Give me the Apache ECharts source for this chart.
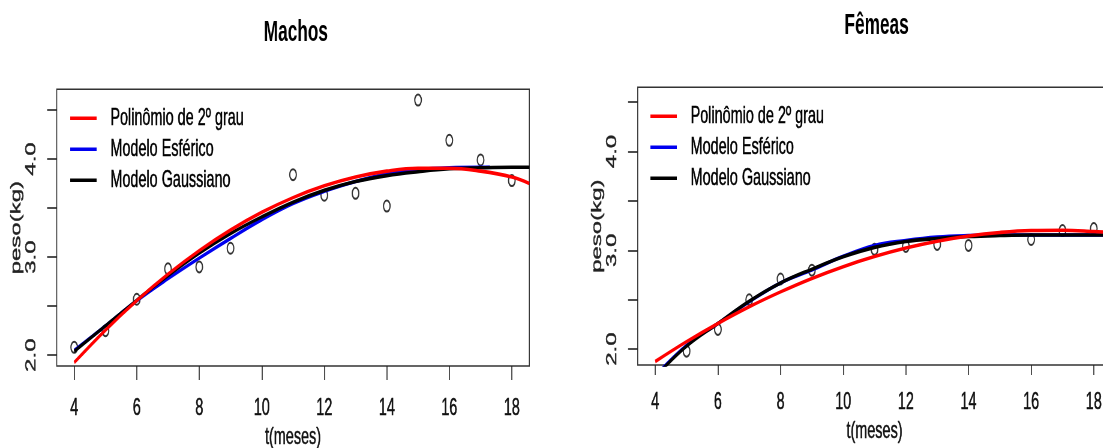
<!DOCTYPE html>
<html>
<head>
<meta charset="utf-8">
<script src="https://cdn.jsdelivr.net/npm/echarts@6/dist/echarts.min.js"></script>
<style>
  html, body { margin: 0; padding: 0; background: #fff; overflow: hidden; }
  /* o grafico original foi achatado na horizontal: desenha largo e comprime */
  #chart { width: 1839px; height: 448px; transform: scaleX(0.6); transform-origin: 0 0; }
</style>
</head>
<body>
<div id="chart"></div>
<script>
// eixos
var xTicks = [4, 6, 8, 10, 12, 14, 16, 18];
var yTicks = [2.0, 2.5, 3.0, 3.5, 4.0, 4.5];
var yLabels = [2.0, 3.0, 4.0];

// Machos - pesos observados
var machosT = [4, 5, 6, 7, 8, 9, 11, 12, 13, 14, 15, 16, 17, 18];
var machosPeso = [2.08, 2.25, 2.57, 2.88, 2.90, 3.09, 3.84, 3.63, 3.65, 3.52, 4.60, 4.19, 3.99, 3.78];

// Femeas - pesos observados
var femeasT = [5, 6, 7, 8, 9, 11, 12, 13, 14, 16, 17, 18];
var femeasPeso = [1.98, 2.20, 2.50, 2.71, 2.80, 3.01, 3.04, 3.06, 3.05, 3.11, 3.20, 3.22];

// curvas ajustadas
var curvaT = [4, 5, 6, 7, 8, 9, 10, 11, 12, 13, 14, 15, 16, 17, 18, 18.56];
var machosPoli = [1.925, 2.256, 2.556, 2.826, 3.066, 3.276, 3.456, 3.606, 3.726, 3.816, 3.876, 3.906, 3.906, 3.876, 3.816, 3.75];
var machosGaus = [2.04, 2.30, 2.56, 2.81, 3.04, 3.24, 3.41, 3.56, 3.68, 3.77, 3.83, 3.87, 3.90, 3.91, 3.915, 3.915];
var esfMachosT = [4, 5, 6, 7, 8, 9, 10, 11, 12, 13, 14, 15, 16, 17, 17.3];
var machosEsf = [2.05, 2.30, 2.555, 2.78, 2.99, 3.19, 3.38, 3.545, 3.67, 3.77, 3.85, 3.89, 3.91, 3.915, 3.915];

var femeasPoli = [1.875, 2.076, 2.26, 2.429, 2.58, 2.716, 2.835, 2.937, 3.023, 3.092, 3.145, 3.181, 3.201, 3.204, 3.191, 3.18];
var femeasEsf = [1.73, 2.04, 2.26, 2.48, 2.67, 2.80, 2.94, 3.05, 3.10, 3.135, 3.15, 3.155, 3.155, 3.155, 3.155, 3.155];
var femeasGaus = [1.72, 2.03, 2.26, 2.485, 2.67, 2.81, 2.935, 3.03, 3.09, 3.12, 3.14, 3.15, 3.155, 3.155, 3.155, 3.155];

var nomes = ['Polinômio de 2º grau', 'Modelo Esférico', 'Modelo Gaussiano'];
var cores = ['#ff0000', '#0000f0', '#000000'];
var fonte = 'Liberation Sans, Arial, sans-serif';

// junta x e y em pares
function pares(xs, ys) {
	var out = [];
	for (var i = 0; i < xs.length; i++) {
		out.push([xs[i], ys[i]]);
	}
	return out;
}

// texto um pouco mais "gordo", como no png original
function texto(cor) {
	return { fontSize: 24, color: cor, fontFamily: fonte, textBorderColor: cor, textBorderWidth: 0.5 };
}

function eixoX(idx) {
	return {
		type: 'value', gridIndex: idx, min: 3.44, max: 18.56,
		name: 't(meses)', nameLocation: 'middle', nameGap: idx == 0 ? 58 : 52,
		nameTextStyle: texto('#111'),
		axisLine: { show: false },
		axisTick: { show: true, customValues: xTicks, length: idx == 0 ? 14 : 10, lineStyle: { color: '#222', width: 1.6 } },
		axisLabel: Object.assign({ customValues: xTicks, margin: idx == 0 ? 30 : 25 }, texto('#111')),
		splitLine: { show: false }
	};
}

function eixoY(idx, min, max) {
	return {
		type: 'value', gridIndex: idx, min: min, max: max,
		name: 'peso(kg)', nameLocation: 'middle', nameRotate: 90, nameGap: 50,
		nameTextStyle: texto('#222'),
		axisLine: { show: false },
		axisTick: { show: true, customValues: yTicks, length: 16, lineStyle: { color: '#222', width: 1.6 } },
		axisLabel: Object.assign({
			customValues: yLabels, rotate: 90, margin: 30,
			formatter: function(v) { return v.toFixed(1); }
		}, texto('#222')),
		splitLine: { show: false }
	};
}

function legenda(left, top) {
	var ts = texto('#000');
	ts.padding = [0, 0, 0, 18];
	return {
		orient: 'vertical', left: left, top: top, padding: 0,
		icon: 'rect', itemWidth: 44, itemHeight: 3.5, itemGap: 6.5,
		data: nomes,
		textStyle: ts
	};
}

function curva(nome, cor, idx, xs, ys, z) {
	return {
		name: nome, type: 'line', xAxisIndex: idx, yAxisIndex: idx,
		data: pares(xs, ys), smooth: 0.4, symbol: 'none', z: z,
		lineStyle: { color: cor, width: 3.6 }, itemStyle: { color: cor }
	};
}

function pontos(idx, xs, ys) {
	return {
		type: 'scatter', xAxisIndex: idx, yAxisIndex: idx,
		data: pares(xs, ys), symbol: 'emptyCircle', symbolSize: 11, z: 1,
		itemStyle: { color: '#000', borderColor: '#000', borderWidth: 1.4 }
	};
}

var myChart = echarts.init(document.getElementById('chart'));
var option = {
	backgroundColor: '#fff',
	animation: false,
	title: [
		{ text: 'Machos', left: 488, top: 14, textAlign: 'center',
		  textStyle: { fontSize: 28.8, fontWeight: 'bold', color: '#000', fontFamily: fonte } },
		{ text: 'Fêmeas', left: 1456, top: 7, textAlign: 'center',
		  textStyle: { fontSize: 28.8, fontWeight: 'bold', color: '#000', fontFamily: fonte } }
	],
	legend: [legenda(117, 106), legenda(1084, 104)],
	grid: [
		{ left: 94.5, top: 89.3, width: 787.7, height: 276.7, show: true, borderColor: '#333', borderWidth: 1.6,
		  backgroundColor: 'transparent', containLabel: false, outerBoundsMode: 'none' },
		{ left: 1062.8, top: 87.3, width: 789.4, height: 277.7, show: true, borderColor: '#333', borderWidth: 1.6,
		  backgroundColor: 'transparent', containLabel: false, outerBoundsMode: 'none' }
	],
	xAxis: [eixoX(0), eixoX(1)],
	yAxis: [eixoY(0, 1.89, 4.71), eixoY(1, 1.84, 4.65)],
	series: [
		pontos(0, machosT, machosPeso),
		curva(nomes[1], cores[1], 0, esfMachosT, machosEsf, 2),
		curva(nomes[2], cores[2], 0, curvaT, machosGaus, 3),
		curva(nomes[0], cores[0], 0, curvaT, machosPoli, 4),
		pontos(1, femeasT, femeasPeso),
		curva(nomes[1], cores[1], 1, curvaT, femeasEsf, 2),
		curva(nomes[2], cores[2], 1, curvaT, femeasGaus, 3),
		curva(nomes[0], cores[0], 1, curvaT, femeasPoli, 4)
	]
};
myChart.setOption(option);
</script>
</body>
</html>
